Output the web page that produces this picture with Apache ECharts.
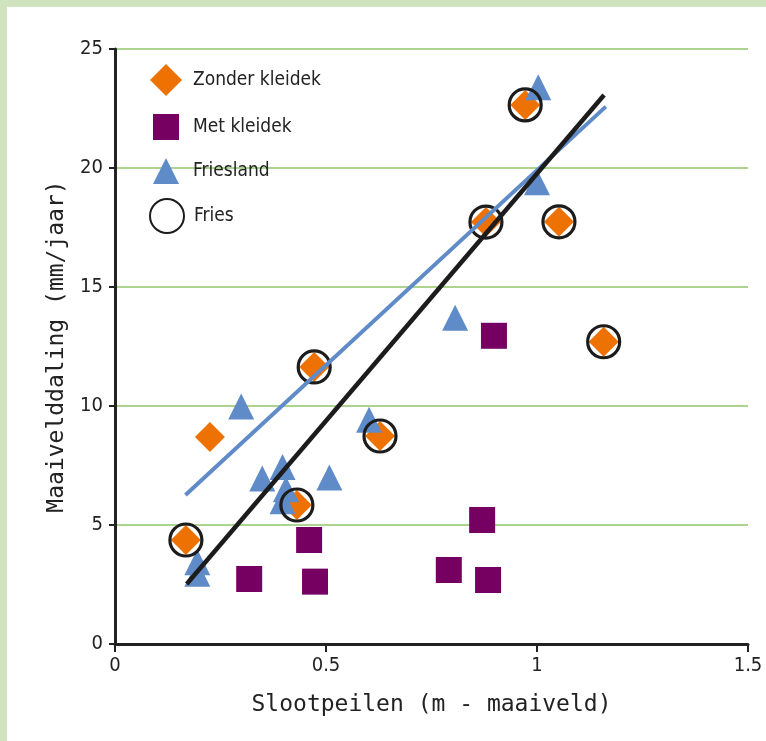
<!DOCTYPE html>
<html>
<head>
<meta charset="utf-8">
<script src="https://cdn.jsdelivr.net/npm/echarts@6/dist/echarts.min.js"></script>
<style>
html,body{margin:0;padding:0;width:766px;height:741px;background:#cfe3bf;overflow:hidden;}
#c{position:absolute;left:7px;top:7px;width:759px;height:734px;background:#ffffff;}
</style>
</head>
<body>
<div id="c"></div>
<script>
// Data
const zonderX = [0.168, 0.225, 0.431, 0.472, 0.628, 0.879, 0.972, 1.052, 1.158];
const zonderY = [4.37, 8.70, 5.84, 11.64, 8.74, 17.73, 22.65, 17.74, 12.70];
const metX = [0.318, 0.460, 0.474, 0.898, 0.870, 0.791, 0.884];
const metY = [2.73, 4.37, 2.62, 12.95, 5.21, 3.11, 2.69];
const frieslandX = [0.299, 0.349, 0.397, 0.405, 0.397, 0.508, 0.602, 0.195, 0.195, 0.806, 1.003, 1.000];
const frieslandY = [9.98, 6.95, 7.44, 6.50, 6.00, 7.00, 9.42, 3.43, 2.95, 13.71, 23.39, 19.40];
const friesX = [0.168, 0.431, 0.472, 0.628, 0.879, 0.972, 1.052, 1.158];
const friesY = [4.37, 5.84, 11.64, 8.74, 17.73, 22.65, 17.74, 12.70];
const trendFrieslandX = [0.167, 1.163];
const trendFrieslandY = [6.26, 22.58];
const trendFriesX = [0.170, 1.159];
const trendFriesY = [2.52, 23.07];
const xTicks = [0, 0.5, 1, 1.5];
const yTicks = [0, 5, 10, 15, 20, 25];
const names = ['Zonder kleidek', 'Met kleidek', 'Friesland', 'Fries'];

const zip = (a, b) => a.map((v, i) => [v, b[i]]);
const FONT = "'Liberation Sans Narrow', 'DejaVu Sans Condensed', sans-serif";
const NAMEFONT = "'DejaVu Sans Mono', monospace";
const ORANGE = '#ee7203', PURPLE = '#750062', BLUE = '#5f8bc8', BLACK = '#1c1c1c';

const chart = echarts.init(document.getElementById('c'), null, {renderer: 'canvas'});

function legendFor(name, cy, w) {
  return {
    data: [name], left: 166 - w / 2 - 7, top: cy - w / 2 - 7, orient: 'vertical',
    itemWidth: w, itemHeight: w, selectedMode: false, padding: 0,
    textStyle: {fontFamily: FONT, fontSize: 19, color: '#222', padding: [0, 0, 0, 22 - w / 2]}
  };
}

chart.setOption({
  animation: false,
  grid: {left: 108, top: 42, right: 18, bottom: 97},
  legend: [
    legendFor(names[0], 80, 32),
    legendFor(names[1], 127, 26),
    legendFor(names[2], 171, 26),
    legendFor(names[3], 215, 34)
  ],
  xAxis: {
    type: 'value', min: xTicks[0], max: xTicks[xTicks.length - 1], interval: 0.5,
    name: 'Slootpeilen (m - maaiveld)', nameLocation: 'middle', nameGap: 50,
    nameTextStyle: {fontFamily: NAMEFONT, fontSize: 23, color: '#222'},
    axisLine: {show: true, lineStyle: {color: '#222', width: 3}},
    axisTick: {show: true, length: 8, lineStyle: {color: '#222', width: 2}},
    axisLabel: {fontFamily: FONT, fontSize: 20, color: '#222', margin: 12},
    splitLine: {show: false}
  },
  yAxis: {
    type: 'value', min: yTicks[0], max: yTicks[yTicks.length - 1], interval: 5,
    name: 'Maaivelddaling (mm/jaar)', nameLocation: 'middle', nameGap: 46,
    nameTextStyle: {fontFamily: NAMEFONT, fontSize: 23, color: '#222'},
    axisLine: {show: true, lineStyle: {color: '#222', width: 3}},
    axisTick: {show: true, length: 6, lineStyle: {color: '#222', width: 2}},
    axisLabel: {fontFamily: FONT, fontSize: 20, color: '#222', margin: 12},
    splitLine: {show: true, lineStyle: {color: '#acd48f', width: 2}}
  },
  series: [
    {name: names[0], type: 'scatter', symbol: 'diamond', symbolSize: 30, z: 2,
     itemStyle: {color: ORANGE, opacity: 1}, data: zip(zonderX, zonderY)},
    {name: names[1], type: 'scatter', symbol: 'rect', symbolSize: 26, z: 2,
     itemStyle: {color: PURPLE, opacity: 1}, data: zip(metX, metY)},
    {name: names[2], type: 'scatter', symbol: 'triangle', symbolSize: 26, z: 3,
     itemStyle: {color: BLUE, opacity: 1}, data: zip(frieslandX, frieslandY)},
    {name: names[3], type: 'scatter', symbol: 'circle', symbolSize: 32, z: 4,
     itemStyle: {color: 'rgba(0,0,0,0)', borderColor: BLACK, borderWidth: 3.2, opacity: 1},
     data: zip(friesX, friesY)},
    {name: 'trend Friesland', type: 'line', symbol: 'none', z: 5, silent: true,
     lineStyle: {color: BLUE, width: 4}, data: zip(trendFrieslandX, trendFrieslandY)},
    {name: 'trend Fries', type: 'line', symbol: 'none', z: 6, silent: true,
     lineStyle: {color: BLACK, width: 4.5}, data: zip(trendFriesX, trendFriesY)}
  ]
});
</script>
</body>
</html>
